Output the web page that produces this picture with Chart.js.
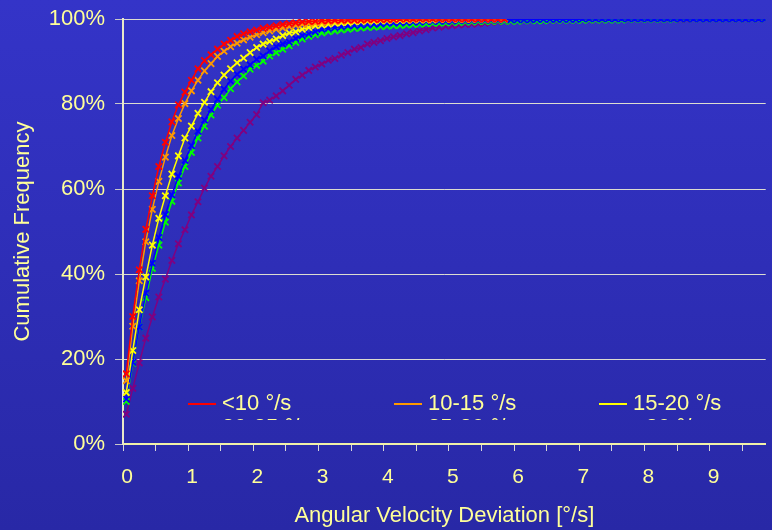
<!DOCTYPE html>
<html>
<head>
<meta charset="utf-8">
<script src="https://cdn.jsdelivr.net/npm/chart.js@4"></script>
<style>
  html, body { margin: 0; padding: 0; overflow: hidden; }
  body { width: 772px; height: 530px; background: linear-gradient(#3434c8, #2828a6); }
  #wrap { position: relative; width: 772px; height: 530px; }
</style>
</head>
<body>
<div id="wrap"><canvas id="cdf"></canvas></div>
<script>
// angular velocity deviation [deg/s], bin centres
const angles = [
  0.05, 0.15, 0.25, 0.35, 0.45, 0.55, 0.65, 0.75, 0.85, 0.95,
  1.05, 1.15, 1.25, 1.35, 1.45, 1.55, 1.65, 1.75, 1.85, 1.95,
  2.05, 2.15, 2.25, 2.35, 2.45, 2.55, 2.65, 2.75, 2.85, 2.95,
  3.05, 3.15, 3.25, 3.35, 3.45, 3.55, 3.65, 3.75, 3.85, 3.95,
  4.05, 4.15, 4.25, 4.35, 4.45, 4.55, 4.65, 4.75, 4.85, 4.95,
  5.05, 5.15, 5.25, 5.35, 5.45, 5.55, 5.65, 5.75, 5.85, 5.95,
  6.05, 6.15, 6.25, 6.35, 6.45, 6.55, 6.65, 6.75, 6.85, 6.95,
  7.05, 7.15, 7.25, 7.35, 7.45, 7.55, 7.65, 7.75, 7.85, 7.95,
  8.05, 8.15, 8.25, 8.35, 8.45, 8.55, 8.65, 8.75, 8.85, 8.95,
  9.05, 9.15, 9.25, 9.35, 9.45, 9.55, 9.65, 9.75, 9.85
];

const seriesNames = ['<10 °/s', '10-15 °/s', '15-20 °/s', '20-25 °/s', '25-30 °/s', '>30 °/s'];
const seriesColors = ['#ff0000', '#ff9900', '#ffff00', '#0000ff', '#00ff00', '#800080'];

// cumulative frequency [%]
const under10 = [
  16.5, 30.0, 41.0, 50.5, 58.4, 65.3, 71.0, 75.8, 79.8, 82.8,
  85.6, 88.3, 90.2, 91.6, 92.9, 94.1, 95.0, 95.9, 96.5, 97.0,
  97.4, 97.8, 98.1, 98.4, 98.7, 98.9, 99.1, 99.3, 99.4, 99.5,
  99.6, 99.6, 99.7, 99.7, 99.8, 99.8, 99.8, 99.9, 99.9, 99.9,
  99.9, 99.9, 100, 100, 100, 100, 100, 100, 100, 100,
  100, 100, 100, 100, 100, 100, 100, 100, 100
];
const from10to15 = [
  14.9, 27.7, 38.4, 47.6, 55.2, 61.8, 67.5, 72.6, 76.6, 80.1,
  83.1, 85.6, 87.8, 89.5, 91.2, 92.4, 93.5, 94.3, 95.1, 95.7,
  96.3, 96.8, 97.2, 97.6, 97.9, 98.2, 98.5, 98.7, 98.9, 99.1,
  99.2, 99.3, 99.4, 99.5, 99.6, 99.6, 99.7, 99.7, 99.8, 99.8,
  99.8, 99.9, 99.9, 99.9, 99.9, 100, 100, 100, 100, 100,
  100, 100, 100, 100, 100, 100, 100, 100, 100
];
const from15to20 = [
  12.1, 22.0, 31.6, 39.3, 46.8, 53.1, 58.4, 63.5, 67.8, 72.0,
  74.8, 77.8, 80.4, 82.9, 85.0, 86.8, 88.3, 89.7, 90.8, 92.1,
  93.3, 94.1, 94.7, 95.3, 96.1, 96.7, 97.0, 97.6, 98.0, 98.4,
  98.6, 98.8, 99.0, 99.1, 99.2, 99.3, 99.4, 99.5, 99.5, 99.6,
  99.6, 99.7, 99.7, 99.7, 99.8, 99.8, 99.8, 99.8, 99.9, 99.9,
  99.9, 99.9, 99.9, 99.9, 100, 100, 100, 100, 100
];
const from20to25 = [
  10.6, 19.2, 27.5, 35.5, 42.5, 48.6, 54.0, 58.6, 63.0, 66.7,
  70.2, 73.6, 76.2, 78.7, 81.1, 83.5, 85.4, 87.0, 88.2, 89.2,
  90.5, 91.3, 92.5, 93.5, 94.1, 94.6, 95.4, 96.1, 96.5, 97.0,
  97.6, 97.8, 98.0, 98.2, 98.4, 98.5, 98.6, 98.7, 98.8, 98.9,
  99.0, 99.1, 99.2, 99.2, 99.3, 99.3, 99.4, 99.4, 99.5, 99.5,
  99.5, 99.6, 99.6, 99.6, 99.7, 99.7, 99.7, 99.7, 99.8, 99.8,
  99.8, 99.8, 99.8, 99.9, 99.9, 99.9, 99.9, 99.9, 99.9, 99.9,
  100, 100, 100, 100, 100, 100, 100, 100, 100, 100,
  100, 100, 100, 100, 100, 100, 100, 100, 100, 100,
  100, 100, 100, 100, 100, 100, 100, 100, 100
];
const from25to30 = [
  10.0, 19.0, 27.5, 34.4, 41.3, 46.8, 52.2, 57.1, 61.4, 65.3,
  68.6, 72.0, 74.8, 77.4, 79.7, 81.5, 83.6, 85.2, 86.6, 88.2,
  89.1, 90.1, 91.3, 92.1, 92.9, 93.7, 94.5, 95.3, 95.9, 96.3,
  96.7, 97.0, 97.2, 97.4, 97.6, 97.8, 97.9, 98.0, 98.1, 98.2,
  98.3, 98.4, 98.5, 98.6, 98.7, 98.8, 98.9, 99.0, 99.0, 99.1,
  99.2, 99.2, 99.3, 99.3, 99.4, 99.4, 99.4, 99.5, 99.5, 99.5,
  99.5, 99.6, 99.6, 99.6, 99.6, 99.7, 99.7, 99.7, 99.7, 99.7,
  99.7, 99.8, 99.8, 99.8, 99.8, 99.8, 99.8, 99.9, 99.9, 99.9,
  99.9, 99.9, 99.9, 99.9, 99.9, 100, 100, 100, 100, 100,
  100, 100, 100, 100, 100, 100, 100, 100, 100
];
const over30 = [
  7.0, 13.1, 19.1, 24.9, 29.9, 34.6, 38.8, 43.2, 47.1, 50.4,
  53.9, 57.0, 60.2, 63.0, 65.3, 67.8, 70.0, 72.0, 73.8, 75.7,
  77.5, 80.3, 80.9, 81.9, 83.1, 84.4, 85.8, 86.8, 87.9, 88.7,
  89.4, 90.3, 90.7, 91.5, 92.1, 92.9, 93.3, 94.1, 94.5, 94.9,
  95.4, 95.8, 96.1, 96.5, 96.8, 97.2, 97.5, 97.9, 98.1, 98.3,
  98.4, 98.6, 98.7, 98.8, 98.9, 99.0, 99.2, 99.3, 99.4, 99.5,
  99.6, 99.6, 99.6, 99.7, 99.7, 99.7, 99.7, 99.8, 99.8, 99.8,
  99.8, 99.8, 99.8, 99.8, 99.9, 99.9, 99.9, 99.9, 99.9, 99.9,
  99.9, 99.9, 99.9, 99.9, 99.9, 99.9, 99.9, 100, 100, 100,
  100, 100, 100, 100, 100, 100, 100, 100, 100
];

const xTickValues = [0, 0.5, 1, 1.5, 2, 2.5, 3, 3.5, 4, 4.5, 5, 5.5, 6, 6.5, 7, 7.5, 8, 8.5, 9, 9.5];
const yTickStep = 20;

const allSeries = [under10, from10to15, from15to20, from20to25, from25to30, over30];
const textColor = '#ffff99';
const fontFamily = '"Liberation Sans", Arial, sans-serif';

// legend sits inside the plot and its second row is cut off, like the original
const clippedLegend = {
  id: 'clippedLegend',
  afterDraw(chart) {
    const ctx = chart.ctx;
    const area = chart.chartArea;
    ctx.save();
    ctx.beginPath();
    ctx.rect(area.left, 380, area.right - area.left, 40);
    ctx.clip();
    ctx.font = '22px ' + fontFamily;
    ctx.textBaseline = 'middle';
    ctx.textAlign = 'left';
    const colX = [188, 394, 599];
    const rowY = [404, 428];
    chart.data.datasets.forEach((ds, i) => {
      const x = colX[i % 3];
      const y = rowY[Math.floor(i / 3)];
      ctx.strokeStyle = ds.borderColor;
      ctx.lineWidth = 2;
      ctx.beginPath();
      ctx.moveTo(x, y);
      ctx.lineTo(x + 28, y);
      ctx.stroke();
      ctx.fillStyle = textColor;
      ctx.fillText(ds.label, x + 34, y);
    });
    ctx.restore();
  }
};

new Chart(document.getElementById('cdf'), {
  type: 'line',
  data: {
    datasets: allSeries.map((vals, i) => ({
      label: seriesNames[i],
      data: vals.map((v, j) => ({ x: angles[j], y: v })),
      borderColor: seriesColors[i],
      backgroundColor: seriesColors[i],
      borderWidth: 1.5,
      pointStyle: 'crossRot',
      pointRadius: 4.5,
      pointBorderWidth: 1.8,
      pointBorderColor: seriesColors[i],
      fill: false,
      tension: 0
    }))
  },
  options: {
    responsive: true,
    maintainAspectRatio: false,
    animation: false,
    layout: { padding: { top: 19, left: 0, right: 0, bottom: 0 } },
    plugins: {
      legend: { display: false },
      tooltip: { enabled: false }
    },
    scales: {
      x: {
        type: 'linear',
        min: 0,
        max: 9.86,
        afterBuildTicks: scale => { scale.ticks = xTickValues.map(v => ({ value: v })); },
        afterFit: scale => { scale.height = 86; scale.paddingLeft = 0; scale.paddingRight = 0; },
        border: { color: '#f0f0a8', width: 2 },
        grid: { drawOnChartArea: false, drawTicks: true, tickLength: 7, tickColor: '#d8d8d8', lineWidth: 1 },
        ticks: {
          autoSkip: false,
          maxRotation: 0,
          padding: 14,
          labelOffset: 4,
          color: textColor,
          font: { family: fontFamily, size: 21 },
          callback: v => (Number.isInteger(v) ? v : '')
        },
        title: {
          display: true,
          text: 'Angular Velocity Deviation [°/s]',
          color: textColor,
          font: { family: fontFamily, size: 22 },
          padding: { top: 0, bottom: 1 }
        }
      },
      y: {
        min: 0,
        max: 100,
        afterFit: scale => { scale.width = 123; scale.paddingTop = 0; scale.paddingBottom = 0; },
        border: { color: '#e8e8c8', width: 2 },
        grid: { color: '#dcdcd0', lineWidth: 1, drawTicks: true, tickLength: 8, tickColor: '#c8c8c8' },
        ticks: {
          stepSize: yTickStep,
          padding: 10,
          color: textColor,
          font: { family: fontFamily, size: 22 },
          callback: v => v + '%'
        },
        title: {
          display: true,
          text: 'Cumulative Frequency',
          color: textColor,
          font: { family: fontFamily, size: 22 },
          padding: { top: 10, bottom: 0 }
        }
      }
    }
  },
  plugins: [clippedLegend]
});
</script>
</body>
</html>
